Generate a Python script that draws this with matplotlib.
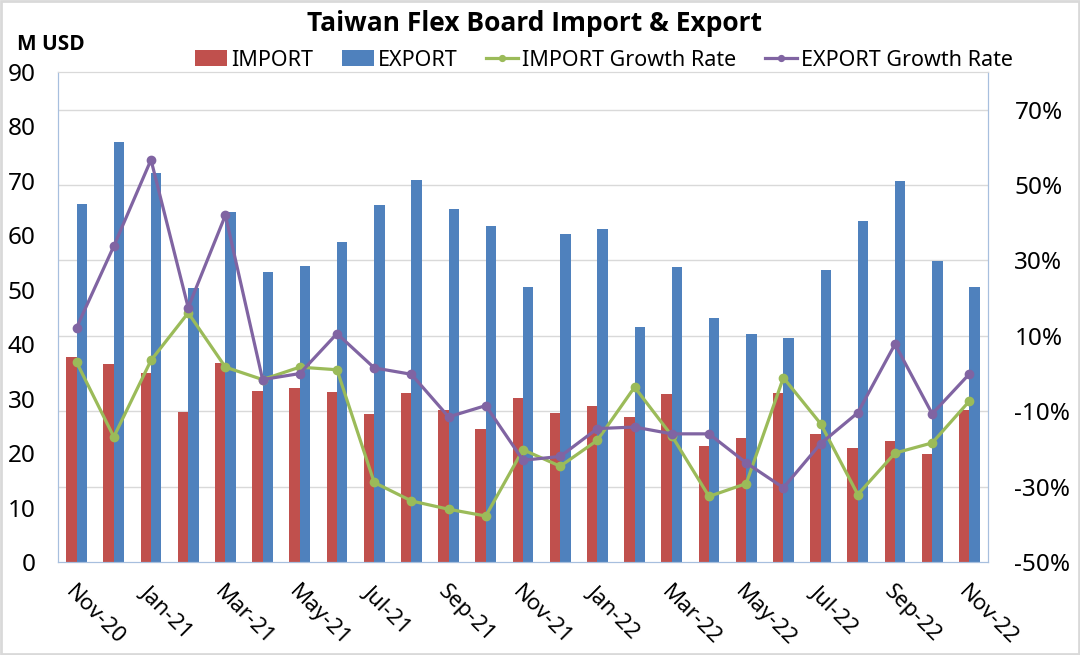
import matplotlib.pyplot as plt
from matplotlib.patches import Rectangle
from matplotlib.ticker import FuncFormatter
import numpy as np

plt.rcParams['font.family'] = ['Noto Sans', 'DejaVu Sans']

# monthly data, Nov-20 .. Nov-22
months = ['Nov-20', 'Dec-20', 'Jan-21', 'Feb-21', 'Mar-21', 'Apr-21', 'May-21', 'Jun-21',
          'Jul-21', 'Aug-21', 'Sep-21', 'Oct-21', 'Nov-21', 'Dec-21', 'Jan-22', 'Feb-22',
          'Mar-22', 'Apr-22', 'May-22', 'Jun-22', 'Jul-22', 'Aug-22', 'Sep-22', 'Oct-22', 'Nov-22']
import_vals = [37.6, 36.3, 34.7, 27.6, 36.6, 31.5, 32.0, 31.2, 27.1, 31.1, 28.0, 24.5, 30.1,
               27.4, 28.6, 26.7, 30.9, 21.3, 22.7, 31.0, 23.5, 21.0, 22.3, 19.9, 28.0]
export_vals = [65.7, 77.1, 71.4, 50.3, 64.2, 53.2, 54.4, 58.8, 65.6, 70.1, 64.8, 61.8, 50.6,
               60.3, 61.2, 43.2, 54.1, 44.9, 41.8, 41.2, 53.6, 62.7, 69.9, 55.2, 50.5]
import_growth = [3.0, -16.8, 3.5, 16.1, 1.7, -1.6, 1.7, 1.0, -28.9, -33.8, -36.0, -37.8, -20.2,
                 -24.6, -17.7, -3.6, -16.5, -32.6, -29.2, -1.1, -13.3, -32.1, -21.1, -18.4, -7.3]
export_growth = [12.2, 33.8, 56.7, 17.5, 42.0, -1.6, 0.0, 10.6, 1.5, -0.2, -11.5, -8.5, -23.0,
                 -22.0, -14.6, -14.2, -16.0, -16.0, -23.7, -30.3, -18.6, -10.4, 7.8, -10.7, -0.1]

RED = '#C0504D'
BLUE = '#4F81BD'
GREEN = '#9BBB59'
PURPLE = '#8064A2'
AXIS_C = '#A7BFDE'
GRID_C = '#D9D9D9'
BOLD_FONT = ['Open Sans', 'Lato', 'DejaVu Sans']

fig = plt.figure(figsize=(10.8, 6.55), dpi=100)
ax = fig.add_axes([58 / 1080, 1 - 562 / 655, 930 / 1080, 490 / 655])

x = np.arange(len(months))
w = 0.28
ax.bar(x - w / 2, import_vals, w, color=RED, label='IMPORT', zorder=2)
ax.bar(x + w / 2, export_vals, w, color=BLUE, label='EXPORT', zorder=2)

ax.set_xlim(-0.5, len(months) - 0.5)
ax.set_ylim(0, 90)
ax.set_yticks(range(0, 91, 10))

# gridlines follow the right-hand (percent) axis
pct_lo, pct_hi = -50, 80
pct_ticks = list(range(-50, 71, 20))
ax.set_yticks([(p - pct_lo) * 90 / (pct_hi - pct_lo) for p in pct_ticks], minor=True)
ax.grid(which='minor', axis='y', color=GRID_C, linewidth=1, zorder=0)
ax.grid(which='major', visible=False)
ax.tick_params(axis='y', which='both', length=0, labelsize=17.5, pad=16)

ax.set_xticks(x[::2])
ax.set_xticklabels(months[::2], rotation=-45, ha='left', va='top', rotation_mode='anchor')
ax.tick_params(axis='x', length=0, labelsize=16, pad=14)

for s in ['left', 'bottom', 'right']:
    ax.spines[s].set_color(AXIS_C)
ax.spines['top'].set_color(GRID_C)

ax2 = ax.twinx()
ax2.plot(x, import_growth, color=GREEN, lw=2.3, marker='o', ms=6, label='IMPORT Growth Rate')
ax2.plot(x, export_growth, color=PURPLE, lw=2.3, marker='o', ms=6, label='EXPORT Growth Rate')
ax2.set_ylim(pct_lo, pct_hi)
ax2.set_yticks(pct_ticks)
ax2.yaxis.set_major_formatter(FuncFormatter(lambda v, p: f'{v:.0f}%'))
ax2.tick_params(axis='y', length=0, labelsize=17.5, pad=19)
for s in ['left', 'bottom', 'right']:
    ax2.spines[s].set_color(AXIS_C)
ax2.spines['top'].set_color(GRID_C)

fig.text(0.495, 0.964, 'Taiwan Flex Board Import & Export', ha='center', va='center',
         fontsize=19, fontweight='bold', family=BOLD_FONT)
fig.text(51 / 1080, 1 - 44 / 655, 'M USD', ha='center', va='center',
         fontsize=15, fontweight='bold', family=BOLD_FONT)

h1, l1 = ax.get_legend_handles_labels()
h2, l2 = ax2.get_legend_handles_labels()
fig.legend(h1 + h2, l1 + l2, loc='center', bbox_to_anchor=(604 / 1080, 1 - 60 / 655),
           ncol=4, frameon=False, fontsize=15.5, handlelength=1.5, handletextpad=0.2,
           columnspacing=1.3, markerscale=0.7)

fig.patches.append(Rectangle((0.001, 0.001), 0.998, 0.997, transform=fig.transFigure,
                             fill=False, edgecolor=GRID_C, linewidth=2))

fig.savefig('out.png', dpi=100)
